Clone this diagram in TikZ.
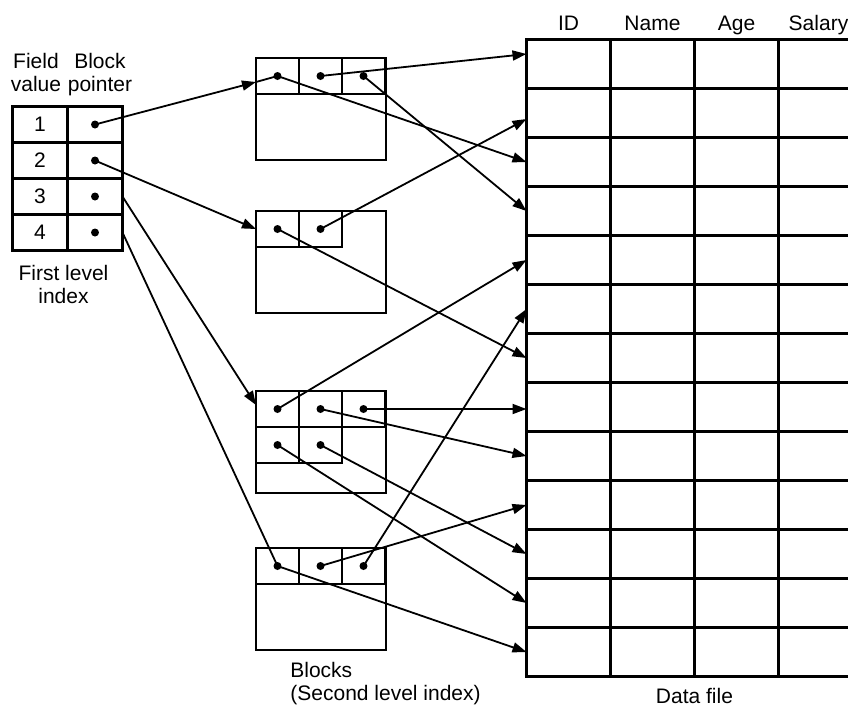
\documentclass[tikz,border=0pt]{standalone}
\usepackage{fontspec}
\setmainfont{Liberation Sans}
\usetikzlibrary{matrix,positioning,arrows.meta}

\begin{document}
\begin{tikzpicture}[
  x=0.5pt, y=-0.5pt,
  font=\fontsize{10.5}{11.5}\selectfont,
  cell/.style={draw, line width=1.1pt, minimum width=42pt, minimum height=24.5pt, inner sep=0pt, outer sep=0pt, anchor=center},
  icell/.style={draw, line width=1.1pt, minimum width=27.5pt, minimum height=18pt, inner sep=0pt, outer sep=0pt, anchor=center},
  blk/.style={draw, line width=1.1pt, minimum width=65pt, minimum height=51pt, inner sep=0pt, outer sep=0pt, anchor=north west},
  ptr/.style={draw, line width=1.1pt, minimum width=21.5pt, minimum height=18pt, inner sep=0pt, outer sep=0pt, anchor=north west},
  lbl/.style={align=center, inner sep=1pt},
  hdr/.style={inner sep=1pt, text height=1.6ex, text depth=0.4ex},
  link/.style={line width=0.9pt, -{Triangle[length=7pt,width=5pt]}}
]
\useasboundingbox (0,0) rectangle (848,709);
\clip (0,0) rectangle (848,709);

\matrix[matrix of nodes, nodes in empty cells, nodes={cell}, row sep=-1.1pt, column sep=-1.1pt, inner sep=0pt, anchor=north west] (df) at (525,38) {
 & & & \\
 & & & \\
 & & & \\
 & & & \\
 & & & \\
 & & & \\
 & & & \\
 & & & \\
 & & & \\
 & & & \\
 & & & \\
 & & & \\
 & & & \\
};

\matrix[matrix of nodes, nodes in empty cells, nodes={icell}, row sep=-1.1pt, column sep=-1.1pt, inner sep=0pt, anchor=north west] (idx) at (11,105) {
1 & \\
2 & \\
3 & \\
4 & \\
};

\node[hdr, above=1pt of df-1-1] (hid) {ID};
\node[hdr, above=1pt of df-1-2] (hname) {Name};
\node[hdr, above=1pt of df-1-3] (hage) {Age};
\node[hdr, above=1pt of df-1-4, xshift=-1pt] (hsal) {Salary};
\node[lbl, below=4.5pt of df-13-2.south east] (dlabel) {Data file};

\node[lbl, anchor=north] (fv) at (36,51) {Field\\value};
\node[lbl, anchor=north] (bp) at (100,51) {Block\\pointer};
\node[lbl, below=5.5pt of idx, xshift=-2pt] (flabel) {First level\\index};

\node[blk] (b1) at (256,58) {};
\node[ptr] (b1p1) at (b1.north west) {};
\node[ptr] (b1p2) at (b1p1.north east) {};
\node[ptr] (b1p3) at (b1p2.north east) {};

\node[blk] (b2) at (256,211) {};
\node[ptr] (b2p1) at (b2.north west) {};
\node[ptr] (b2p2) at (b2p1.north east) {};

\node[blk] (b3) at (256,391) {};
\node[ptr] (b3p1) at (b3.north west) {};
\node[ptr] (b3p2) at (b3p1.north east) {};
\node[ptr] (b3p3) at (b3p2.north east) {};
\node[ptr] (b3q1) at (b3p1.south west) {};
\node[ptr] (b3q2) at (b3q1.north east) {};

\node[blk] (b4) at (256,548) {};
\node[ptr] (b4p1) at (b4.north west) {};
\node[ptr] (b4p2) at (b4p1.north east) {};
\node[ptr] (b4p3) at (b4p2.north east) {};

\node[lbl, align=left, anchor=north west] (blabel) at ([xshift=16pt, yshift=-5pt]b4.south west) {Blocks\\(Second level index)};

\fill (idx-1-2) circle (2pt) (idx-2-2) circle (2pt) (idx-3-2) circle (2pt) (idx-4-2) circle (2pt);
\fill (b1p1) circle (2pt) (b1p2) circle (2pt) (b1p3) circle (2pt);
\fill (b2p1) circle (2pt) (b2p2) circle (2pt);
\fill (b3p1) circle (2pt) (b3p2) circle (2pt) (b3p3) circle (2pt) (b3q1) circle (2pt) (b3q2) circle (2pt);
\fill (b4p1) circle (2pt) (b4p2) circle (2pt) (b4p3) circle (2pt);

\draw[link] (idx-1-2.center) -- ([yshift=-3pt]b1p1.west);
\draw[link] (idx-2-2.center) -- (b2p1.west);
\draw[link] (idx-3-2.east) -- ([yshift=2pt]b3p1.west);
\draw[line width=0.9pt] (idx-4-2.east) -- (b4p1.center);

\draw[link] ([yshift=-3pt]b1p1.west) -- (b1p1.center) -- (df-3-1.west);
\draw[link] (b1p2.center) -- ([yshift=5pt]df-1-1.west);
\draw[link] (b1p3.center) -- (df-4-1.west);
\draw[link] (b2p1.center) -- (df-7-1.west);
\draw[link] (b2p2.center) -- ([yshift=-3pt]df-2-1.west);
\draw[link] (b3p1.center) -- (df-5-1.west);
\draw[link] (b3p2.center) -- (df-9-1.west);
\draw[link] (b3p3.center) -- (b3p3.center -| df-8-1.west);
\draw[link] (b3q1.center) -- (df-12-1.west);
\draw[link] (b3q2.center) -- (df-11-1.west);
\draw[link] (b4p1.center) -- (df-13-1.west);
\draw[link] (b4p2.center) -- (df-10-1.west);
\draw[link] (b4p3.center) -- (df-6-1.west);

\end{tikzpicture}
\end{document}
